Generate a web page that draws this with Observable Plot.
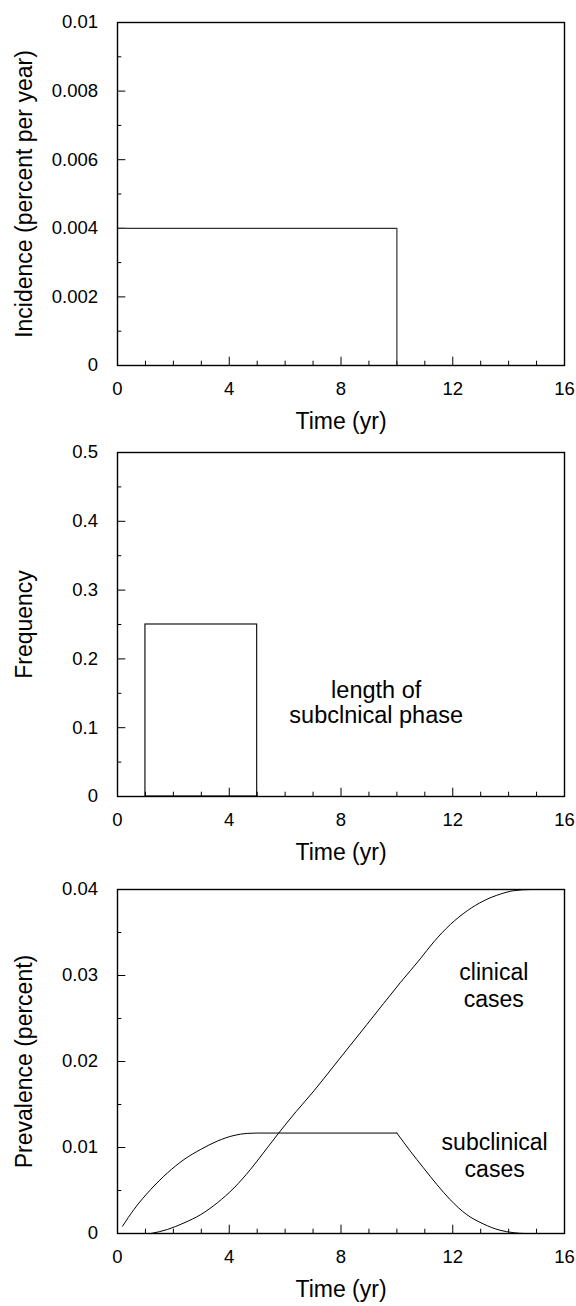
<!DOCTYPE html>
<html><head><meta charset="utf-8">
<script src="https://cdn.jsdelivr.net/npm/d3@7"></script>
<script src="https://cdn.jsdelivr.net/npm/@observablehq/plot@0.6"></script>
<style>
html,body{margin:0;padding:0;background:#fff;overflow:hidden}
#chart svg{display:block}
</style></head><body><div id="chart"></div>
<script>
// shared x axis (years)
const xMajor = [0, 4, 8, 12, 16];
const xMinor = [1, 2, 3, 5, 6, 7, 9, 10, 11, 13, 14, 15];
const xTitle = "Time (yr)";

// panel 1: incidence
const incidenceTime = [0, 10, 10, 16];
const incidenceValue = [0.004, 0.004, 0, 0];
const incidenceTicks = [0, 0.002, 0.004, 0.006, 0.008, 0.01];
const incidenceMinor = [0.001, 0.003, 0.005, 0.007, 0.009];

// panel 2: distribution of subclinical phase length
const phaseStart = [1];
const phaseEnd = [5];
const phaseFreq = [0.25];
const freqTicks = [0, 0.1, 0.2, 0.3, 0.4, 0.5];
const freqMinor = [0.05, 0.15, 0.25, 0.35, 0.45];
const phaseNote = ["length of\nsubclnical phase"];
const phaseNoteTime = [9.26];
const phaseNoteValue = [0.1367];

// panel 3: prevalence
const subRiseTime  = [0.18, 0.59, 1.19, 1.79, 2.38, 2.98, 3.57, 4.17, 4.64, 5.0, 7.5, 10.0];
const subRiseValue = [0.00085, 0.0028, 0.00512, 0.00705, 0.0086, 0.00978, 0.01074, 0.0114, 0.01164, 0.01168, 0.01168, 0.01168];
const subFallTime  = [10.0, 10.48, 10.95, 11.43, 11.9, 12.5, 13.09, 13.69, 14.16, 14.6, 16];
const subFallValue = [0.01168, 0.00958, 0.00764, 0.0057, 0.00396, 0.0022, 0.00112, 0.00038, 0.0001, 0, 0];
const clinTime  = [1.2, 1.79, 2.38, 2.98, 3.57, 4.17, 4.76, 5.36, 5.77, 6.4, 7.03, 7.74, 8.93, 10.12, 10.84, 11.32, 11.92, 12.52, 13.11, 13.71, 14.18, 14.8, 16];
const clinValue = [0, 0.00047, 0.00123, 0.0022, 0.00356, 0.0053, 0.00745, 0.00996, 0.01168, 0.0142, 0.01658, 0.01947, 0.02431, 0.02916, 0.03195, 0.0339, 0.03595, 0.03753, 0.03869, 0.03947, 0.03986, 0.04, 0.04];
const prevTicks = [0, 0.01, 0.02, 0.03, 0.04];
const prevMinor = [0.005, 0.015, 0.025, 0.035];
const prevNotes = ["clinical\ncases", "subclinical\ncases"];
const prevNoteTime = [13.47, 13.5];
const prevNoteValue = [0.0289, 0.0091];

const FONT = "'Liberation Sans', Arial, Helvetica, sans-serif";
const W = 576, ML = 117, MR = 12;
const pts = (xs, ys) => xs.map((x, i) => ({x, y: ys[i]}));

function panel({height, mt, mb, yMax, yTicks, yMinor, yTitle, titleDy, marks}) {
  const H = height - mt - mb;
  return Plot.plot({
    width: W, height,
    marginLeft: ML, marginRight: MR, marginTop: mt, marginBottom: mb,
    style: {fontFamily: FONT, fontSize: "18.5px", color: "black", background: "white", overflow: "visible"},
    x: {domain: [0, 16]},
    y: {domain: [0, yMax]},
    marks: [
      Plot.axisX({ticks: xMajor, tickSize: 0, tickPadding: 16.5, tickFormat: d => String(d), label: null}),
      Plot.axisY({ticks: yTicks, tickSize: 0, tickPadding: 19.5, tickFormat: d => String(d), label: null}),
      Plot.tickX(xMajor, {x: d => d, insetTop: H - 8.3, stroke: "black", strokeWidth: 1}),
      Plot.tickX(xMinor, {x: d => d, insetTop: H - 4.3, stroke: "black", strokeWidth: 1}),
      Plot.tickY(yTicks, {y: d => d, insetRight: (W - ML - MR) - 8.3, stroke: "black", strokeWidth: 1}),
      Plot.tickY(yMinor, {y: d => d, insetRight: (W - ML - MR) - 4.3, stroke: "black", strokeWidth: 1}),
      ...marks,
      Plot.frame({stroke: "black", strokeWidth: 1.4}),
      Plot.text([xTitle], {frameAnchor: "bottom", dy: titleDy, fontSize: 23, textAnchor: "middle", text: d => d}),
      Plot.text([yTitle], {frameAnchor: "left", dx: -93, rotate: -90, fontSize: 23, textAnchor: "middle", lineAnchor: "middle", text: d => d})
    ]
  });
}

const p1 = panel({
  height: 438, mt: 22, mb: 73, yMax: 0.01,
  yTicks: incidenceTicks, yMinor: incidenceMinor,
  yTitle: "Incidence (percent per year)", titleDy: 63,
  marks: [
    Plot.line(pts(incidenceTime, incidenceValue), {x: "x", y: "y", stroke: "#333", strokeWidth: 1.2})
  ]
});

const p2 = panel({
  height: 432, mt: 14, mb: 74, yMax: 0.5,
  yTicks: freqTicks, yMinor: freqMinor,
  yTitle: "Frequency", titleDy: 63,
  marks: [
    Plot.rect(phaseFreq.map((f, i) => ({x1: phaseStart[i], x2: phaseEnd[i], y: f})),
      {x1: "x1", x2: "x2", y1: 0, y2: "y", fill: "none", stroke: "black", strokeWidth: 1.1}),
    Plot.text(phaseNote.map((t, i) => ({t, x: phaseNoteTime[i], y: phaseNoteValue[i]})),
      {x: "x", y: "y", text: "t", fontSize: 23.5, lineHeight: 1.06})
  ]
});

const p3 = panel({
  height: 436, mt: 19, mb: 73, yMax: 0.04,
  yTicks: prevTicks, yMinor: prevMinor,
  yTitle: "Prevalence (percent)", titleDy: 63,
  marks: [
    Plot.line(pts(subRiseTime, subRiseValue), {x: "x", y: "y", curve: "monotone-x", stroke: "black", strokeWidth: 1}),
    Plot.line(pts(subFallTime, subFallValue), {x: "x", y: "y", curve: "monotone-x", stroke: "black", strokeWidth: 1}),
    Plot.line(pts(clinTime, clinValue), {x: "x", y: "y", curve: "monotone-x", stroke: "black", strokeWidth: 1}),
    Plot.text(prevNotes.map((t, i) => ({t, x: prevNoteTime[i], y: prevNoteValue[i]})),
      {x: "x", y: "y", text: "t", fontSize: 23, lineHeight: 1.16})
  ]
});

const root = document.getElementById("chart");
root.append(p1, p2, p3);
</script></body></html>
